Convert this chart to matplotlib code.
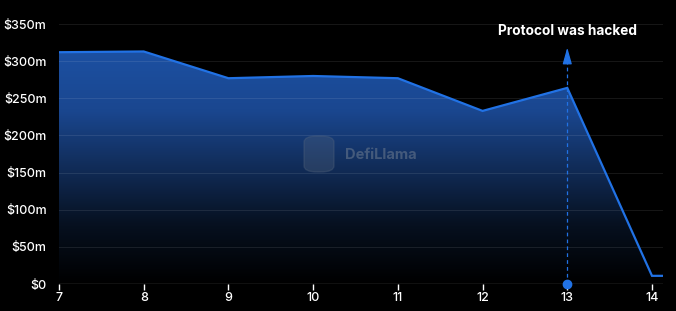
import numpy as np
import matplotlib
matplotlib.use("Agg")
from matplotlib import pyplot as plt
from matplotlib.patches import FancyBboxPatch

# tvl per day, in millions of usd
days = [7, 8, 9, 10, 11, 12, 13, 14, 14.13]
tvl = [312, 313, 277, 280, 277, 233, 264, 11, 11]

y_ticks = [0, 50, 100, 150, 200, 250, 300, 350]
y_labels = ["$0", "$50m", "$100m", "$150m", "$200m", "$250m", "$300m", "$350m"]
x_ticks = [7, 8, 9, 10, 11, 12, 13, 14]

hack_day = 13
hack_text = "Protocol was hacked"

plt.rcParams['font.family'] = ['Inter', 'DejaVu Sans']

line_col = "#2172e5"

fig = plt.figure(figsize=(6.76, 3.11), dpi=100, facecolor="black")
ax = fig.add_axes([59/676, 1-284/311, (663-59)/676, (284-24)/311])
ax.set_facecolor("black")

ax.set_xlim(7, 14.13)
ax.set_ylim(0, 350)

# gradient fill below the line
grad = np.linspace(0, 1, 256).reshape(-1, 1)
cmap = matplotlib.colors.LinearSegmentedColormap.from_list(
    "fade", ["#000000", "#06101f", "#112c58", "#1a4790", "#1c50a2"])
img = ax.imshow(grad, cmap=cmap, aspect="auto", origin="lower",
                extent=[7, 14.13, 0, max(tvl)], zorder=1)
poly = ax.fill_between(days, tvl, 0, color="none", zorder=1)
path = poly.get_paths()[0]
img.set_clip_path(path, transform=ax.transData)

ax.plot(days, tvl, color=line_col, lw=1.6, zorder=3, solid_joinstyle="miter")

# grid
for v in y_ticks[1:]:
    ax.axhline(v, color="white", alpha=0.09, lw=0.8, zorder=2)
ax.axhline(0, color="#555555", lw=1, zorder=2)

for s in ax.spines.values():
    s.set_visible(False)

ax.set_yticks(y_ticks)
ax.set_yticklabels(y_labels)
ax.set_xticks(x_ticks)
ax.tick_params(axis="y", length=0, colors="white", labelsize=9, pad=9)
ax.tick_params(axis="x", length=4, width=1, color="white", colors="white",
               labelsize=9, pad=2)
for lab in ax.get_yticklabels() + ax.get_xticklabels():
    lab.set_fontweight("medium")

# hack marker
ax.plot([hack_day, hack_day], [0, 305], ls=(0, (3, 2.5)), color=line_col,
        lw=0.9, zorder=4)
ax.annotate("", xy=(hack_day, 322), xytext=(hack_day, 300),
            arrowprops=dict(arrowstyle="-|>,head_width=0.28,head_length=1.0",
                            color=line_col, lw=0.9), zorder=5)
ax.text(hack_day, 341, hack_text, color="white", fontsize=9.8,
        fontweight="bold", ha="center", va="center", zorder=5)
ax.plot([hack_day], [0], "o", color=line_col, ms=6, zorder=6, clip_on=False)

# watermark
fig.patches.append(FancyBboxPatch((304/676, 1-172/311), 30/676, 36/311,
                                  boxstyle="round,pad=0,rounding_size=0.02",
                                  transform=fig.transFigure,
                                  color="#5a6a80", alpha=0.3, zorder=3))
fig.text(345/676, 1-155/311, "DefiLlama", color="#6e7c90", alpha=0.55,
         fontsize=10.5, fontweight="bold", va="center", ha="left")

fig.savefig("out.png", dpi=100, facecolor="black")
